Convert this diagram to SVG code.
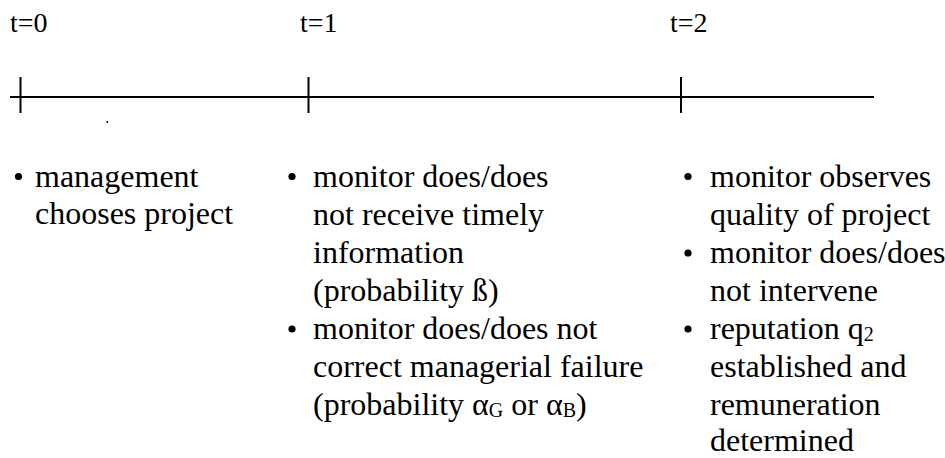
<svg xmlns="http://www.w3.org/2000/svg" width="945" height="458" viewBox="0 0 945 458">
<style>
.t{font-size:28px}
.b{font-size:32px}
.s{font-size:20px}
.ln{stroke:#000;stroke-width:2;fill:none}
.bl{fill:#000}
</style>
<rect width="945" height="458" fill="#fff"/>
<g id="connectors">
<line class="ln" x1="10" y1="97" x2="874" y2="97"/>
<line class="ln" x1="20.5" y1="77" x2="20.5" y2="113"/>
<line class="ln" x1="308.5" y1="77" x2="308.5" y2="113"/>
<line class="ln" x1="681" y1="77" x2="681" y2="113"/>
<circle cx="107.3" cy="122" r="1" fill="#000"/>
</g>
<g font-family="'Liberation Serif', serif" fill="#000">
<g id="t0">
<text class="t" x="10" y="32">t=0</text>
<circle class="bl" cx="18.5" cy="176.5" r="3.6"/>
<text class="b" x="35" y="186.5">management</text>
<text class="b" x="35" y="224">chooses project</text>
</g>
<g id="t1">
<text class="t" x="300" y="32">t=1</text>
<circle class="bl" cx="292" cy="176.5" r="3.6"/>
<text class="b" x="313" y="187">monitor does/does</text>
<text class="b" x="313" y="225">not receive timely</text>
<text class="b" x="313" y="263">information</text>
<text class="b" x="313" y="301">(probability ß)</text>
<circle class="bl" cx="292" cy="329" r="3.6"/>
<text class="b" x="313" y="339">monitor does/does not</text>
<text class="b" x="313" y="377">correct managerial failure</text>
<text class="b" x="313" y="415">(probability α<tspan class="s" dy="2">G</tspan><tspan dy="-2"> or α</tspan><tspan class="s" dy="2">B</tspan><tspan dy="-2">)</tspan></text>
</g>
<g id="t2">
<text class="t" x="670" y="32">t=2</text>
<circle class="bl" cx="688" cy="176.5" r="3.6"/>
<text class="b" x="710" y="187">monitor observes</text>
<text class="b" x="710" y="225">quality of project</text>
<circle class="bl" cx="688" cy="253" r="3.6"/>
<text class="b" x="710" y="263">monitor does/does</text>
<text class="b" x="710" y="301">not intervene</text>
<circle class="bl" cx="688" cy="329" r="3.6"/>
<text class="b" x="710" y="339">reputation q<tspan class="s" dy="2">2</tspan></text>
<text class="b" x="710" y="377">established and</text>
<text class="b" x="710" y="415">remuneration</text>
<text class="b" x="710" y="451">determined</text>
</g>
</g>
</svg>
